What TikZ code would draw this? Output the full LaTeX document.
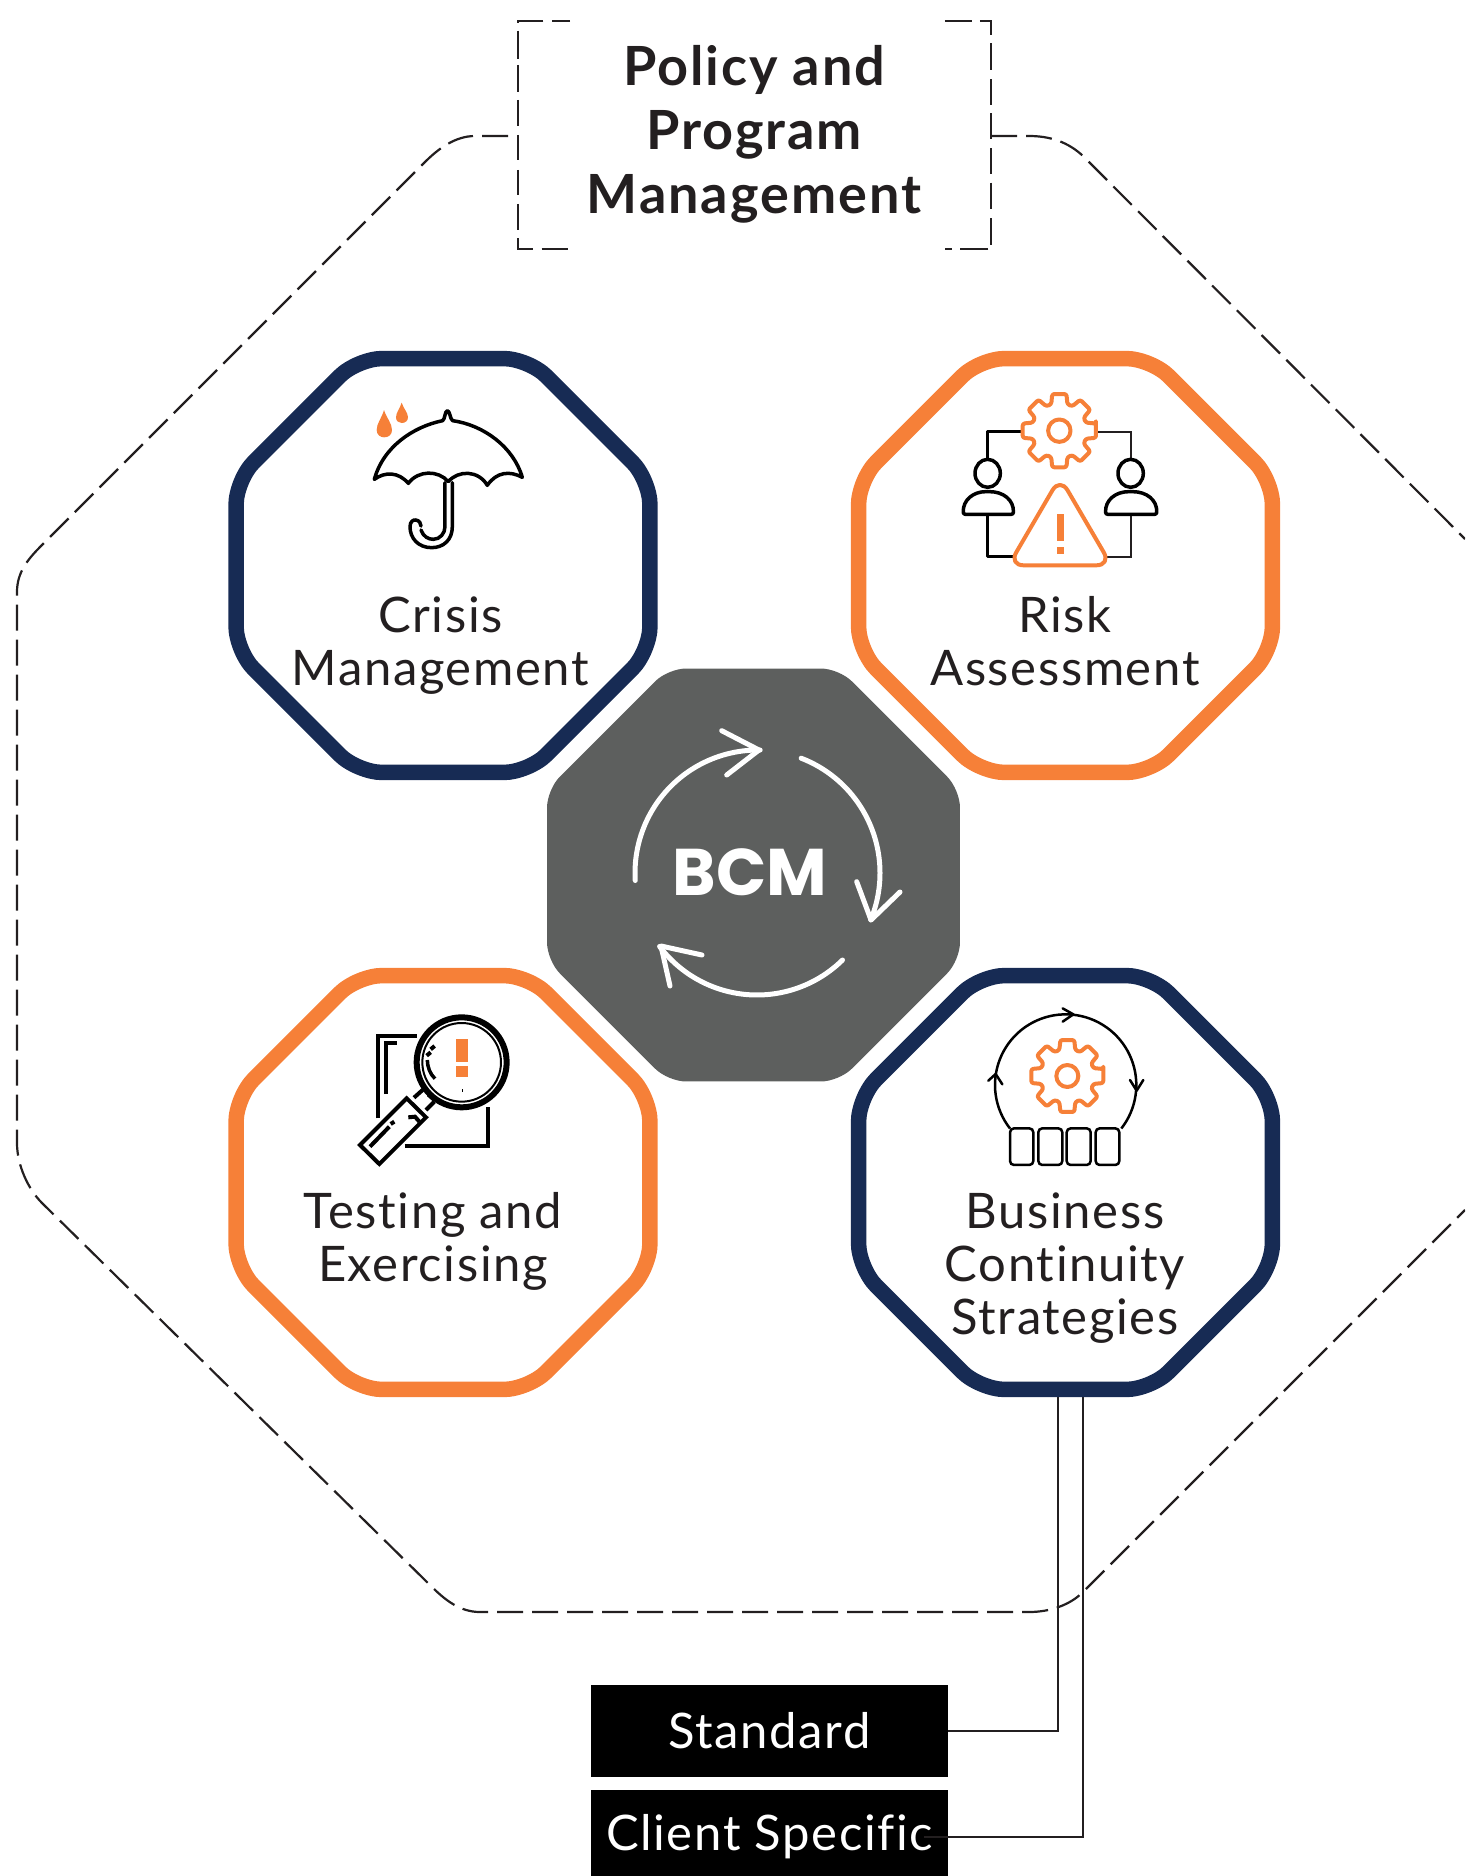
\documentclass[tikz,border=0pt]{standalone}
\usepackage{fontspec}
\setmainfont[LetterSpace=3.3,Ligatures=NoCommon]{Lato}
\newfontfamily\titlefont[LetterSpace=3.6,Ligatures=NoCommon]{Lato}
\newfontfamily\bcmfont{Poppins}
\usetikzlibrary{shapes.geometric,calc}
\definecolor{navy}{HTML}{172B54}
\definecolor{orng}{HTML}{F68038}
\definecolor{ink}{HTML}{231F20}
\definecolor{slategrey}{HTML}{5D5F5E}
\tikzset{
  octa/.style={regular polygon,regular polygon sides=8,minimum size=448pt,inner sep=0pt,outer sep=0pt,rounded corners=25pt,line width=15.5pt,fill=white},
  label/.style={align=center,text=ink,font=\fontsize{49}{53}\selectfont,inner sep=0pt},
  tag/.style={fill=black,text=white,minimum width=357pt,font=\fontsize{49}{53}\selectfont,inner sep=0pt},
  dashline/.style={draw=ink,line width=2.2pt,dash pattern=on 26pt off 9pt},
  seg/.style={draw=ink,line width=2.2pt},
  wire/.style={draw=ink,line width=2pt},
  iconline/.style={draw=black,line width=3.5pt,line join=round},
  orangeline/.style={draw=orng,line width=4pt,line join=round},
  cyc/.style={draw=white,line width=5pt,line cap=round,line join=round},
  zoomed/.style={x=0.3333pt,y=-0.3333pt}
}
\newcommand{\gearshape}[3]{%
  \begin{scope}[shift={(#1,#2)}]
    \draw[orangeline,rounded corners=2.2pt] (-11:#3) \foreach \a in {0,45,...,315}{
      -- ({\a-11}:#3) -- ({\a+11}:#3) -- ({\a+17}:#3*0.74) -- ({\a+28}:#3*0.74) } -- cycle;
    \draw[orangeline] (0,0) circle (#3*0.3);
  \end{scope}}
\begin{document}
\begin{tikzpicture}[x=1pt,y=-1pt]
\useasboundingbox (0,0) rectangle (1465,1876);
\clip (0,0) rectangle (1465,1876);
% outer dashed octagon
\draw[dashline] (508,136) -- (475,136) .. controls (455,136) and (438,149) .. (425,162) -- (42,545) .. controls (28,559) and (17,572) .. (17,592) -- (17,1143) .. controls (17,1165) and (28,1189) .. (42,1203) -- (431,1586) .. controls (445,1600) and (460,1612) .. (480,1612) -- (1029,1612) .. controls (1050,1612) and (1070,1605) .. (1083,1592) -- (1465,1210);
\draw[dashline] (991,136) -- (1029,136) .. controls (1050,136) and (1068,142) .. (1083,156) -- (1465,539);
% title bracket
\begin{scope}[shift={(500,0)},zoomed]
\draw[seg] (210,62) -- (155,62);
\draw[seg] (130,62) -- (54,62) -- (54,70);
\foreach \a/\b in {92/178,195/275,300/378,405/480,510/585,612/690}{\draw[seg] (54,\a) -- (54,\b);}
\draw[seg] (54,715) -- (54,748) -- (100,748);
\draw[seg] (125,748) -- (205,748);
\draw[seg] (1335,62) -- (1415,62);
\draw[seg] (1440,62) -- (1473,62) -- (1473,105);
\foreach \a/\b in {130/210,238/315,340/418,445/522,548/628,655/735}{\draw[seg] (1473,\a) -- (1473,\b);}
\draw[seg] (1465,748) -- (1380,748);
\draw[seg] (1355,748) -- (1335,748);
\end{scope}
\node[label,font=\titlefont\bfseries\fontsize{54}{64}\selectfont] (policy) at (754,134) {Policy and\\Program\\Management};
% connectors
\node[tag,minimum height=92pt] (std) at (769.5,1731) {\raisebox{2pt}{Standard}};
\node[tag,minimum height=94pt] (cli) at (769.5,1837) {\raisebox{-2pt}{Client Specific}};
\coordinate (bscA) at (1058,1389);
\coordinate (bscB) at (1083,1389);
\coordinate (cliIn) at (924,1837);
\draw[wire] (std.east) -| (bscA);
\draw[wire] (cliIn) -| (bscB);
% octagons
\node[octa,draw=navy] (crisis) at (443,565.5) {};
\node[octa,draw=orng] (risk) at (1065.5,565.5) {};
\node[octa,draw=orng] (testing) at (443,1182.5) {};
\node[octa,draw=navy] (bsc) at (1065.5,1182.5) {};
\node[regular polygon,regular polygon sides=8,minimum size=447pt,inner sep=0pt,outer sep=0pt,rounded corners=18pt,fill=slategrey] (bcm) at (753.5,875) {};
% labels
\node[label] (lcrisis) at (440.5,646) {Crisis\\Management};
\node[label] (lrisk) at (1065,641) {Risk\\Assessment};
\node[label] (ltest) at (433,1241) {Testing and\\Exercising};
\node[label] (lbsc) at (1065,1268) {Business\\Continuity\\Strategies};
\node[text=white,font=\bcmfont\bfseries\fontsize{66}{66}\selectfont,inner sep=0pt] (lbcm) at (750,872) {BCM};
% cycle arrows
\begin{scope}
\draw[cyc] plot[domain=183.5:89,samples=50] ({758+123*cos(\x)},{873-123*sin(\x)});
\draw[cyc] (721.7,730.7) -- (759,750) -- (726.7,775);
\draw[cyc] plot[domain=69:-22.4,samples=50] ({757+123*cos(\x)},{873-123*sin(\x)});
\draw[cyc] (856.7,881.7) -- (871,920) -- (900,892);
\draw[cyc] plot[domain=-45.5:-143,samples=50] ({757+122*cos(\x)},{873-122*sin(\x)});
\draw[cyc] (702,955) -- (661,946) -- (670,986);
\end{scope}
% umbrella
\begin{scope}[shift={(340,380)},zoomed]
\draw[iconline] (103,298) .. controls (130,200) and (220,140) .. (308,122) .. controls (315,118) and (315,92) .. (322,92) .. controls (330,92) and (330,118) .. (338,122) .. controls (430,135) and (520,200) .. (547,292) .. controls (510,272) and (470,275) .. (442,316) .. controls (415,270) and (355,270) .. (325,305) .. controls (295,270) and (235,270) .. (205,310) .. controls (175,275) and (135,275) .. (103,298) -- cycle;
\draw[iconline,line cap=round] (337,308) -- (337,440) .. controls (337,480) and (310,503) .. (275,503) .. controls (235,503) and (210,475) .. (210,440) .. controls (210,425) and (220,418) .. (228,420) .. controls (238,422) and (243,430) .. (243,438);
\draw[iconline,line cap=round] (243,450) .. controls (250,470) and (265,478) .. (280,478) .. controls (300,478) and (315,460) .. (315,440) -- (315,308);
\fill[orng] (132,90) .. controls (125,115) and (110,130) .. (110,150) .. controls (110,165) and (122,172) .. (132,172) .. controls (145,172) and (156,165) .. (156,150) .. controls (156,130) and (140,115) .. (132,90) -- cycle;
\fill[orng] (185,68) .. controls (180,85) and (168,98) .. (168,112) .. controls (168,123) and (176,129) .. (185,129) .. controls (195,129) and (204,123) .. (204,112) .. controls (204,98) and (190,85) .. (185,68) -- cycle;
\end{scope}
% risk icon
\begin{scope}[shift={(940,380)},zoomed]
\draw[iconline] (250,155) -- (143,155) -- (143,240);
\draw[iconline] (143,405) -- (143,530) -- (228,530);
\draw[draw=ink,line width=2.3pt] (468,155) -- (573,155) -- (573,240);
\draw[draw=ink,line width=2.3pt] (573,405) -- (573,530) -- (495,530);
\draw[iconline] (143,280) ellipse [x radius=38,y radius=42];
\draw[iconline] (572,280) ellipse [x radius=38,y radius=42];
\draw[iconline,rounded corners=2pt] (70,403) .. controls (68,360) and (100,335) .. (143,335) .. controls (190,335) and (222,360) .. (220,403) -- cycle;
\draw[iconline,rounded corners=2pt] (497,403) .. controls (495,360) and (527,335) .. (572,335) .. controls (620,335) and (652,360) .. (650,403) -- cycle;
\draw[orangeline,fill=white,rounded corners=15pt] (360,292) -- (514,556) -- (206,556) -- cycle;
\fill[orng] (350,403) rectangle (373,482);
\fill[orng] (350,500) rectangle (373,523);
\gearshape{358}{152}{112}
\end{scope}
% testing icon
\begin{scope}[shift={(340,1000)},zoomed]
\draw[draw=black,line width=4pt] (115,355) -- (115,107) -- (230,107);
\draw[draw=black,line width=4pt] (138,282) -- (138,130) -- (170,130);
\draw[draw=black,line width=4pt] (195,437) -- (443,437) -- (443,322);
\draw[draw=black,line width=6pt,fill=white] (365,187) circle (135);
\draw[draw=black,line width=2pt] (365,187) circle (118);
\fill[orng] (347,118) rectangle (383,185);
\fill[orng] (347,197) rectangle (383,232);
\fill[black] (366,268) rectangle (368,276);
\draw[draw=black,line width=4pt] (272,148) -- (284,138);
\draw[draw=black,line width=4pt] (260,167) -- (272,157);
\draw[draw=black,line width=3.5pt] (262,180) .. controls (262,200) and (270,222) .. (285,236);
\draw[draw=black,line width=4pt] (222,293) -- (250,268);
\draw[draw=black,line width=4pt] (258,330) -- (283,305);
\draw[draw=black,line width=4pt] (265,284) -- (283,300);
\draw[draw=black,line width=4pt,line join=miter] (200,295) -- (258,352) -- (118,492) -- (60,435) -- cycle;
\draw[draw=black,line width=4pt] (90,440) -- (148,380);
\draw[draw=black,line width=4pt] (152,372) -- (163,365);
\draw[draw=black,line width=4pt] (205,352) -- (225,350) -- (238,365);
\end{scope}
% business icon
\begin{scope}[shift={(970,1000)},zoomed]
\draw[draw=black,line width=2.5pt] plot[domain=218:-38,samples=70] ({287+212*cos(\x)},{255-212*sin(\x)});
\draw[draw=black,line width=2.5pt,line cap=round,line join=round] (278,25) -- (310,43) -- (278,65);
\draw[draw=black,line width=2.5pt,line cap=round,line join=round] (55,242) -- (77,222) -- (97,253);
\draw[draw=black,line width=2.5pt,line cap=round,line join=round] (480,240) -- (500,272) -- (520,240);
\foreach \xa/\xb in {120/190,205/277,290/362,377/448}{
  \draw[draw=black,line width=2.5pt,fill=white,rounded corners=4pt] (\xa,385) rectangle (\xb,495);
}
\gearshape{292}{228}{110}
\end{scope}
\end{tikzpicture}
\end{document}
